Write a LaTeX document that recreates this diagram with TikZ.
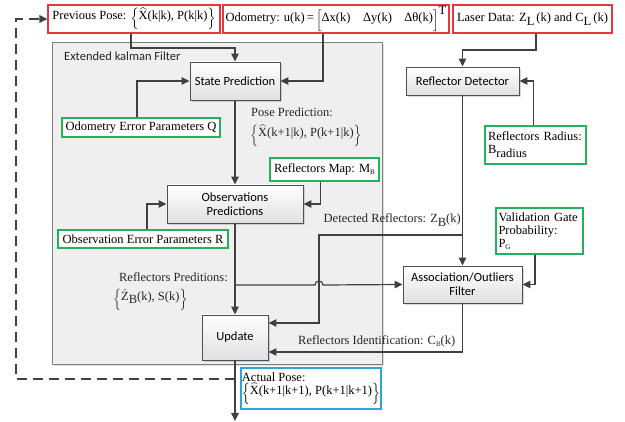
\documentclass[tikz,border=0pt]{standalone}
\usepackage{fontspec}
\usepackage{amsmath}
\setmainfont{Liberation Serif}
\newfontfamily\boxfont{Carlito}
\usetikzlibrary{arrows.meta,shadows,calc}
\definecolor{lc}{HTML}{404040}
\definecolor{boxline}{HTML}{505050}
\definecolor{redc}{HTML}{E5383E}
\definecolor{greenc}{HTML}{22B35A}
\definecolor{cyanc}{HTML}{2AA7D8}
\definecolor{panelc}{HTML}{EFEFEF}
\newcommand{\smallsub}[1]{\raisebox{-2pt}{\fontsize{7}{7}\selectfont #1}}
\newcommand{\lbr}{\raisebox{-2.5pt}{$\Bigl\{$}}
\newcommand{\rbr}{\raisebox{-2.5pt}{$\Bigr\}$}}
\newcommand{\lbk}{\raisebox{-2.5pt}{$\Bigl[$}}
\newcommand{\rbk}{\raisebox{-2.5pt}{$\Bigr]$}}
\newcommand{\hatX}{$\widehat{\text{X}}$}
\tikzset{
  sfbox/.style={draw=boxline, line width=0.9pt, top color=white, bottom color=black!12,
    drop shadow={opacity=0.3, shadow xshift=2pt, shadow yshift=-2pt},
    font={\boxfont\fontsize{12.5}{14}\selectfont}, align=center, inner sep=1pt},
  redbox/.style={draw=redc, line width=1.1pt, fill=white, inner sep=1pt},
  greenbox/.style={draw=greenc, line width=1.1pt, fill=white, inner sep=1pt},
  cyanbox/.style={draw=cyanc, line width=1.1pt, fill=white, inner sep=1pt},
  conn/.style={draw=lc, line width=1.2pt},
  arr/.style={conn, -{Triangle[length=8pt,width=7.5pt]}},
  lbl/.style={inner sep=0pt, text=black!85}
}
\begin{document}
\begin{tikzpicture}[x=1pt,y=-1pt, font={\fontsize{12.5}{15}\selectfont}]
\useasboundingbox (0,0) rectangle (625,422);
% panel
\node[draw=black!50, line width=0.9pt, fill=panelc, minimum width=330pt, minimum height=322pt,
  drop shadow={opacity=0.25, shadow xshift=2pt, shadow yshift=-2pt}, inner sep=0pt] (ekf) at (217,203) {};
\node[lbl, anchor=west, font={\boxfont\fontsize{12.5}{15}\selectfont}] (ekft) at (64,56) {Extended kalman Filter};

% top boxes
\node[redbox, minimum width=172pt, minimum height=28pt] (prev) at (134,19)
  {Previous Pose: \lbr\hatX(k|k), P(k|k)\rbr};
\node[redbox, minimum width=226pt, minimum height=28pt] (odo) at (336,19)
  {Odometry: u(k)\,=\,\lbk Δx(k)\quad Δy(k)\quad Δθ(k)\rbk\raisebox{7pt}{T}};
\node[redbox, minimum width=159pt, minimum height=28pt] (laser) at (532.5,19)
  {Laser Data: Z\raisebox{-4pt}{L}\,(k) and C\raisebox{-4pt}{L}\,(k)};

% EKF boxes
\node[sfbox, minimum width=90pt, minimum height=38pt] (sp) at (235,81) {State Prediction};
\node[greenbox, minimum width=158pt, minimum height=19pt] (q) at (141,127.5) {Odometry Error Parameters Q};
\node[sfbox, minimum width=136pt, minimum height=38pt] (obs) at (235,204) {Observations\\Predictions};
\node[greenbox, minimum width=109pt, minimum height=23pt] (map) at (324.5,169.5) {Reflectors Map: M\smallsub{B}};
\node[greenbox, minimum width=170pt, minimum height=18pt] (r) at (143,239) {Observation Error Parameters R};
\node[sfbox, minimum width=66pt, minimum height=45pt] (upd) at (235,337.5) {Update};

% right side
\node[sfbox, minimum width=113pt, minimum height=28pt] (rd) at (462.5,81) {Reflector Detector};
\node[greenbox, minimum width=101pt, minimum height=38pt, align=left, text width=95pt,
  font={\fontsize{12.5}{13}\selectfont}] (rad) at (535.5,145)
  {Reflectors Radius:\\B\raisebox{-4pt}{radius}};
\node[greenbox, minimum width=87pt, minimum height=46pt, align=left, text width=82pt,
  font={\fontsize{12.5}{13}\selectfont}] (vg) at (539.5,231)
  {Validation Gate\\Probability:\\P\smallsub{G}};
\node[sfbox, minimum width=119pt, minimum height=37pt] (assoc) at (462.5,284.5) {Association/Outliers\\Filter};
\node[cyanbox, minimum width=140pt, minimum height=41pt, align=left,
  font={\fontsize{12.5}{15}\selectfont}] (actual) at (311,388.5)
  {Actual Pose:\\[-2pt]\lbr\hatX(k+1|k+1), P(k+1|k+1)\rbr};

% labels
\node[lbl, anchor=west] (pp1) at (251,112) {Pose Prediction:};
\node[lbl, anchor=west] (pp2) at (250,136) {\lbr\hatX(k+1|k), P(k+1|k)\rbr};
\node[lbl, anchor=east] (rp1) at (228,277) {Reflectors Preditions:};
\node[lbl, anchor=west] (rp2) at (113,300) {\lbr$\hat{\text{Z}}$\raisebox{-3pt}{B}(k), S(k)\rbr};
\node[lbl, anchor=east] (dr) at (461,220) {Detected Reflectors: Z\raisebox{-4pt}{B}(k)};
\node[lbl, anchor=west] (ri) at (298,341) {Reflectors Identification: C\smallsub{B}(k)};

% coordinates
\coordinate (bp) at (235,285);
\coordinate (dbr) at (rd.south |- 0,235);
\coordinate (jx) at (319,235);
\coordinate (out) at (235,421);
\coordinate (dl) at (235,379);

% connectors
\draw[arr] ([xshift=-3pt]prev.south) |- (sp.north |- 0,48) -- (sp.north);
\draw[arr] ([xshift=-13pt]odo.south) |- (sp.east);
\draw[arr] ([xshift=-4pt]q.north) |- (sp.west);
\draw[arr] (sp.south) -- (obs.north);
\draw[arr] ([xshift=-4pt]map.south) |- (obs.east);
\draw[arr] ([xshift=4pt]r.north) |- (obs.west);
\draw[arr] (obs.south) -- (upd.north);
\draw[arr] (bp) -- (315,285) arc[start angle=180, end angle=360, radius=4] -- (assoc.west);
\draw[arr] ([xshift=3.5pt]laser.south) |- (rd.north |- 0,50) -- (rd.north);
\draw[arr] ([xshift=-2pt]rad.north) |- (rd.east);
\draw[arr] (rd.south) -- (assoc.north);
\draw[arr] (dbr) -- (jx) -- (jx |- 0,323) -- (upd.east |- 0,323);
\draw[arr] ([xshift=-4.5pt]vg.south) |- (assoc.east);
\draw[arr] (assoc.south) |- (upd.east |- 0,352);
\draw[arr] (upd.south) -- (out);
\draw[conn, -{Triangle[length=8pt,width=7.5pt]}, dash pattern=on 10pt off 6pt] (dl) -- (16,379) -- (16,19) -- (prev.west);
\end{tikzpicture}
\end{document}
